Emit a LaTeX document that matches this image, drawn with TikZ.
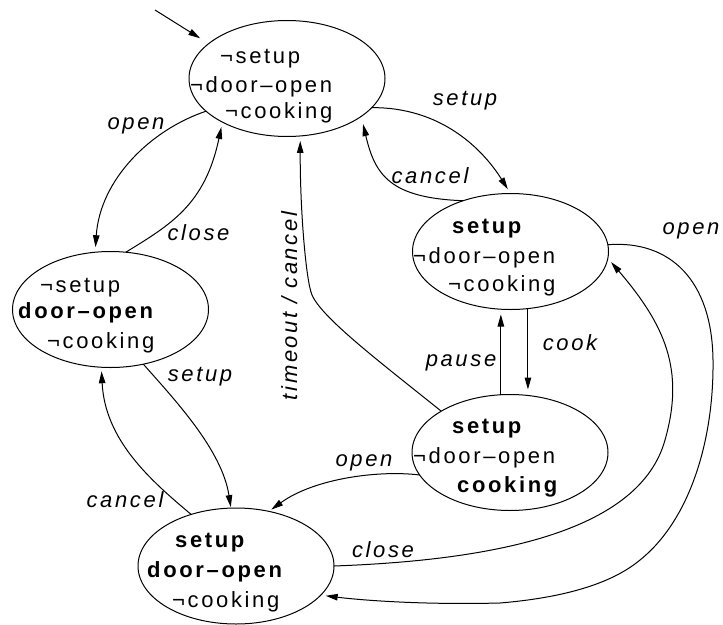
\documentclass[tikz,border=0pt]{standalone}
\usepackage{fontspec}
\setmainfont{Liberation Sans}[LetterSpace=12]
\usetikzlibrary{arrows.meta,shapes.geometric}
\begin{document}
\begin{tikzpicture}[x=1pt,y=-1pt,
  state/.style={ellipse,draw,line width=1pt,minimum width=196pt,minimum height=116pt,inner sep=0pt,outer sep=0pt},
  ln/.style={anchor=base west,inner sep=0pt,font=\fontsize{22}{27.5}\selectfont},
  lbl/.style={anchor=base,inner sep=0pt,font=\fontsize{22}{27.5}\selectfont\itshape},
  edge/.style={line width=1pt,-{Triangle[length=12pt,width=6.5pt]},shorten >=5pt},
]
\useasboundingbox (0,0) rectangle (723,624);

% states
\node[state] (s0) at (287,78.5) {};
\node[state] (s1) at (510.5,251.5) {};
\node[state] (s2) at (110.5,309.5) {};
\node[state] (s3) at (510,452.5) {};
\node[state] (s4) at (236,566) {};

% state contents, one line each
\node[ln] (t0a) at (220,63) {¬setup};
\node[ln] (t0b) at (190,92) {¬door–open};
\node[ln] (t0c) at (225,118) {¬cooking};

\node[ln] (t1a) at (452,233) {\textbf{setup}};
\node[ln] (t1b) at (413,263) {¬door–open};
\node[ln] (t1c) at (448,291) {¬cooking};

\node[ln] (t2a) at (40,292) {¬setup};
\node[ln] (t2b) at (18,318) {\textbf{door–open}};
\node[ln] (t2c) at (47,348) {¬cooking};

\node[ln] (t3a) at (452,433) {\textbf{setup}};
\node[ln] (t3b) at (413,463) {¬door–open};
\node[ln] (t3c) at (457,492) {\textbf{cooking}};

\node[ln] (t4a) at (175,547) {\textbf{setup}};
\node[ln] (t4b) at (147,577) {\textbf{door–open}};
\node[ln] (t4c) at (172,607) {¬cooking};

% initial transition
\coordinate (init) at (155,10);
\draw[edge,shorten >=10pt] (init) -- (s0.156);

% transitions
\draw[edge] (s0.-19) .. controls (440,107) and (482,148) .. (s1.90);
\draw[edge,shorten >=8pt] (s1.133) .. controls (390,198) and (375,175) .. (s0.-27);
\draw[edge] (s0.-158) .. controls (150,130) and (100,180) .. (s2.105);
\draw[edge] (s2.75) .. controls (170,225) and (205,205) .. (s0.-146);

\coordinate (tbend) at (312,295);
\draw[edge] (s3.149) .. controls (380,362) and (322,318) .. (tbend)
  .. controls (306,281) and (300,210) .. (s0.-77);

\draw[edge] (s1.-73) -- (s1.-73 |- s3.north);
\draw[edge] (s3.99) -- (s3.99 |- s1.south);

\draw[edge,shorten >=3pt] (s3.-166) .. controls (380,470) and (315,478) .. (s4.59);

\coordinate (cl1) at (665,440);
\draw[edge] (s4.east) .. controls (500,560) and (640,530) .. (cl1)
  .. controls (685,370) and (665,325) .. (s1.-4);

\coordinate (op1) at (713,360);
\coordinate (op2) at (640,560);
\coordinate (op3) at (500,603);
\draw[edge] (s1.4) .. controls (670,240) and (712,280) .. (op1)
  .. controls (714,440) and (690,520) .. (op2)
  .. controls (610,585) and (560,598) .. (op3)
  .. controls (420,605) and (360,600) .. (s4.-19);

\draw[edge,shorten >=1pt] (s2.-59) .. controls (175,400) and (222,450) .. (s4.95);
\draw[edge,shorten >=4pt] (s4.131) .. controls (150,480) and (105,440) .. (s2.-99);

% transition labels
\node[lbl] (lsetupa) at (465,105.5) {setup};
\node[lbl] (lcancela) at (430,183) {cancel};
\node[lbl] (lopena) at (136,129) {open};
\node[lbl] (lclosea) at (198.5,240) {close};
\node[lbl,rotate=90] (ltimeout) at (297,306) {timeout / cancel};
\node[lbl] (lcook) at (570,350) {cook};
\node[lbl] (lpause) at (461,366) {pause};
\node[lbl] (lopenb) at (364,466) {open};
\node[lbl] (lcloseb) at (383,557) {close};
\node[lbl] (lopenc) at (691,234) {open};
\node[lbl] (lsetupb) at (200,381) {setup};
\node[lbl] (lcancelb) at (125,507) {cancel};
\end{tikzpicture}
\end{document}
